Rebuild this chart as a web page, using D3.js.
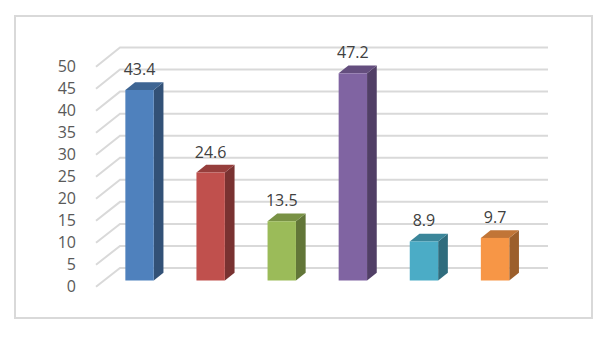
<!DOCTYPE html>
<html><head><meta charset="utf-8">
<script src="https://cdn.jsdelivr.net/npm/d3@7"></script>
<style>html,body{margin:0;padding:0;background:#fff;} svg{display:block;}</style>
</head><body>
<svg id="c" width="607" height="340"></svg>
<script>
const categories = ["A","B","C","D","E","F"];
const values = [43.4, 24.6, 13.5, 47.2, 8.9, 9.7];
const colors = ["#4F81BD","#C0504D","#9BBB59","#8064A2","#4BACC6","#F79646"];
const yTicks = [0,5,10,15,20,25,30,35,40,45,50];

const svg = d3.select("#c");
const font = "'Open Sans', 'Noto Sans', sans-serif";

// border
svg.append("rect").attr("x",15).attr("y",16).attr("width",577).attr("height",302)
  .attr("fill","#fff").attr("stroke","#D9D9D9").attr("stroke-width",2);

const yFront = d3.scaleLinear().domain([0,50]).range([286.7,66.7]);
const yBack  = d3.scaleLinear().domain([0,50]).range([268,47.5]);
const yBar   = d3.scaleLinear().domain([0,50]).range([280.5,280.5-219.5]);
const x = d3.scaleBand().domain(categories).range([104,530.6]).padding(0);

const xFront = 96, xBack = 120, xRight = 548;
// grid
const g = svg.append("g");
g.selectAll("path.grid").data(yTicks).join("path")
  .attr("fill","none").attr("stroke","#D9D9D9").attr("stroke-width",2)
  .attr("d", d => `M${xFront},${yFront(d)}L${xBack},${yBack(d)}L${xRight},${yBack(d)}`);

// axis labels
const ax = svg.append("g").attr("transform",`translate(${xFront-20},0)`)
  .call(d3.axisLeft(yFront).tickValues(yTicks).tickSize(0).tickPadding(0));
ax.select(".domain").remove();
ax.attr("font-size",null).attr("font-family",null);
ax.selectAll("text").attr("font-family",font).style("font-size","16px").attr("fill","#595959");

// bars
const bw = 28.4, dx = 9.7, dy = -7.7;
const bars = svg.append("g").selectAll("g").data(categories).join("g");
bars.each(function(c,i){
  const gg = d3.select(this);
  const x0 = x(c) + x.bandwidth()/2 - bw/2, x1 = x0 + bw;
  const yt = yBar(values[i]), yb = yBar(0);
  const col = d3.color(colors[i]);
  const side = d3.rgb(col.r*0.63, col.g*0.63, col.b*0.63);
  const top = d3.rgb(col.r*0.78, col.g*0.78, col.b*0.78);
  gg.append("path").attr("fill",side)
    .attr("d",`M${x1},${yt}L${x1+dx},${yt+dy}L${x1+dx},${yb+dy}L${x1},${yb}Z`);
  gg.append("path").attr("fill",top)
    .attr("d",`M${x0},${yt}L${x0+dx},${yt+dy}L${x1+dx},${yt+dy}L${x1},${yt}Z`);
  gg.append("rect").attr("x",x0).attr("y",yt).attr("width",bw).attr("height",yb-yt).attr("fill",colors[i]);
  gg.append("text").attr("x",x0+bw/2).attr("y",yt-20.6).attr("dy","0.35em")
    .attr("text-anchor","middle").attr("font-family",font).style("font-size","16px")
    .attr("fill","#404040").text(values[i]);
});
</script>
</body></html>
